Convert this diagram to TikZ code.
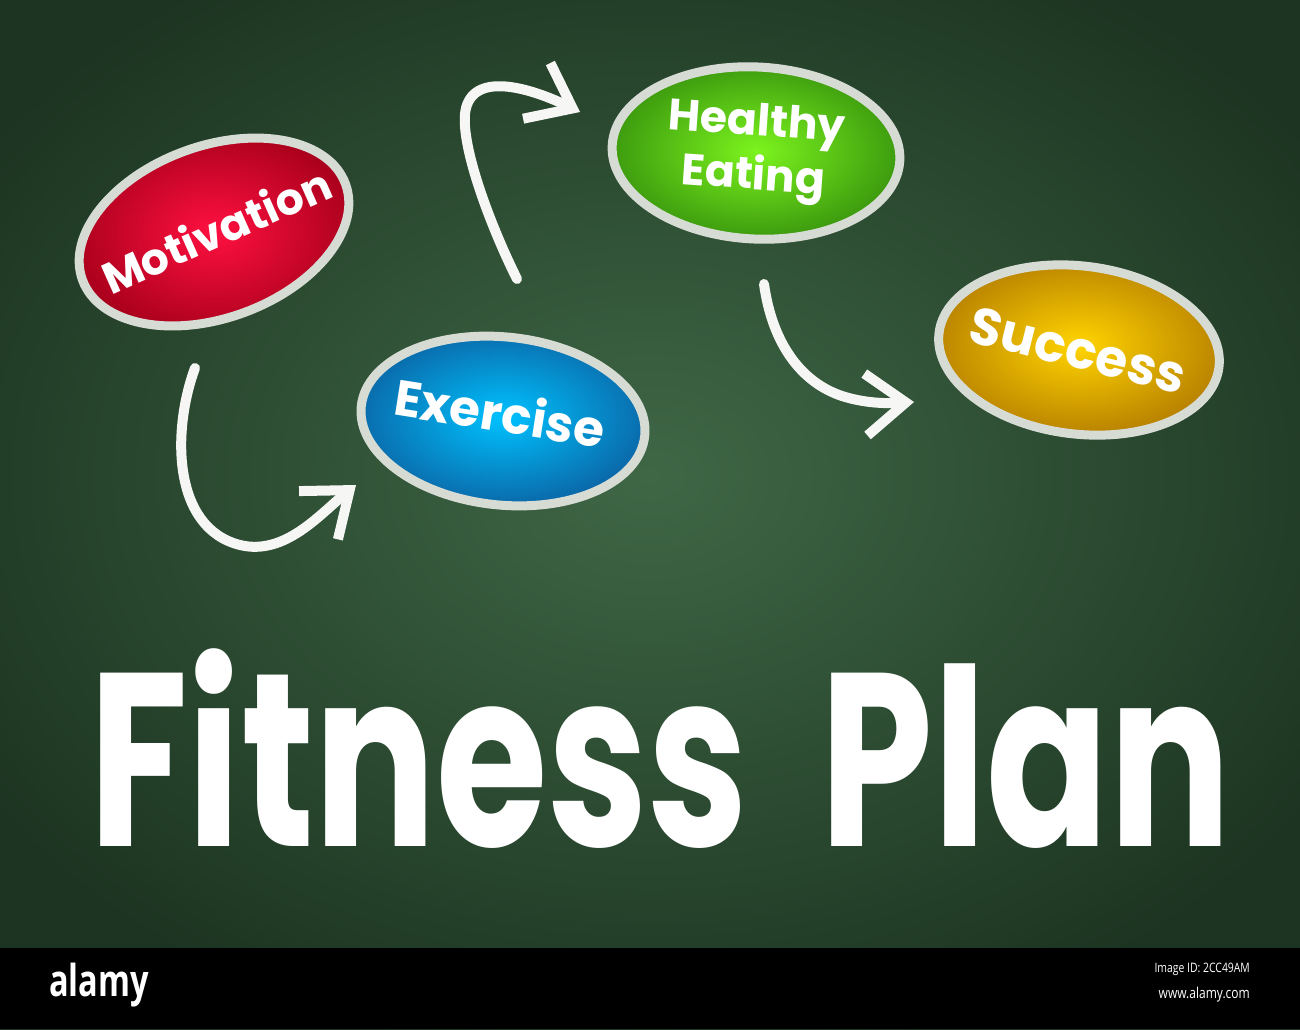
\documentclass[tikz,border=0pt]{standalone}
\usepackage{fontspec}
\setmainfont{Poppins}
\newfontfamily\barfont{Open Sans}
\usetikzlibrary{shapes.geometric,arrows.meta}
\definecolor{bgin}{HTML}{3F6746}
\definecolor{bgout}{HTML}{1C3421}
\definecolor{rim}{HTML}{D6DBD4}
\definecolor{chalkc}{HTML}{F6F7F4}
\definecolor{redin}{HTML}{FF1040}
\definecolor{redout}{HTML}{A8001C}
\definecolor{bluein}{HTML}{00C2FF}
\definecolor{blueout}{HTML}{0A6AAA}
\definecolor{greenin}{HTML}{7CF41E}
\definecolor{greenout}{HTML}{3C9A0E}
\definecolor{yelin}{HTML}{FFD400}
\definecolor{yelout}{HTML}{BA8400}
\tikzset{
  bubble/.style={ellipse, draw=rim, line width=9pt, inner sep=0pt},
  lbl/.style={text=white, font=\bfseries\fontsize{44}{50}\selectfont, align=center, inner sep=0pt},
  chalk/.style={draw=chalkc, line width=10pt, line cap=round, line join=round,
    -{Straight Barb[length=40pt,width=62pt,line width=10pt]}},
}
\begin{document}
\begin{tikzpicture}[x=1pt,y=-1pt]
\useasboundingbox (0,0) rectangle (1300,1029);
% chalkboard
\shade[inner color=bgin, outer color=bgout] (-150,-120) rectangle (1450,1070);
\fill[black] (0,948) rectangle (1300,1029);
% ellipses
\node[bubble, minimum width=280, minimum height=172, rotate=20,
  inner color=redin, outer color=redout] (mot) at (214,232) {};
\node[bubble, minimum width=285, minimum height=168, rotate=-6,
  inner color=bluein, outer color=blueout] (exe) at (503,421) {};
\node[bubble, minimum width=288, minimum height=172, rotate=-3,
  inner color=greenin, outer color=greenout] (hea) at (756,153) {};
\node[bubble, minimum width=282, minimum height=168, rotate=-7,
  inner color=yelin, outer color=yelout] (suc) at (1079,350) {};
% labels
\node[lbl, rotate=24] (motl) at (216,230) {Motivation};
\node[lbl, rotate=-9, font=\bfseries\fontsize{50}{50}\selectfont] (exel) at (500,412) {Exercise};
\node[lbl, rotate=-4, font=\bfseries\fontsize{44}{54}\selectfont] (heal) at (755,152) {Healthy\\Eating};
\node[lbl, rotate=-14, font=\bfseries\fontsize{52}{52}\selectfont] (sucl) at (1078,350) {Success};
% connectors
\coordinate (a1s) at (195,368);
\coordinate (a1e) at (356,485);
\coordinate (a2s) at (517,279);
\coordinate (a2e) at (580,112);
\coordinate (a3s) at (764,284);
\coordinate (a3e) at (914,402);
\draw[chalk] (a1s) .. controls (172,430) and (172,528) .. (240,545)
  .. controls (285,556) and (320,514) .. (a1e);
\draw[chalk] (a2s) .. controls (490,225) and (458,140) .. (466,108)
  .. controls (476,70) and (535,90) .. (a2e);
\draw[chalk] (a3s) .. controls (772,342) and (800,382) .. (842,396)
  .. controls (870,405) and (895,403) .. (a3e);
% title
\node[text=white, font=\bfseries\fontsize{190}{200}\selectfont, xscale=0.95, yscale=1.3, inner sep=0pt, anchor=base] (title) at (660,846) {Fitness\hspace{0.4em}Plan};
% bottom bar
\node[text=white, font=\barfont\bfseries\fontsize{44}{44}\selectfont, xscale=0.74, anchor=west, inner sep=0pt] (alamy) at (49,985) {alamy};
\node[text=white, font=\barfont\fontsize{13}{13}\selectfont, xscale=0.8, anchor=east, inner sep=0pt] (imgid) at (1250,969) {Image ID: 2CC49AM};
\node[text=white, font=\barfont\fontsize{15}{15}\selectfont, xscale=0.8, anchor=east, inner sep=0pt] (www) at (1250,995) {www.alamy.com};
\end{tikzpicture}
\end{document}
